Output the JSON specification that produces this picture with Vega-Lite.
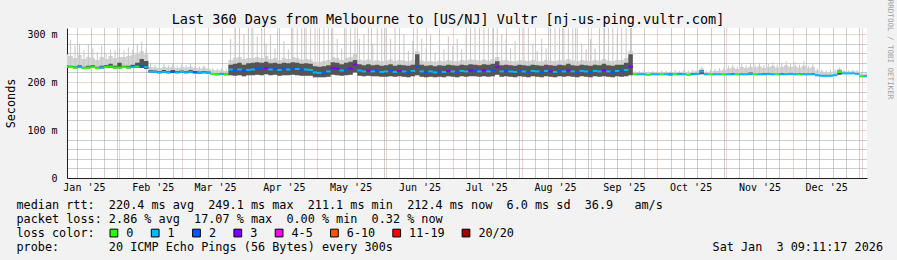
{
  "$schema": "https://vega.github.io/schema/vega-lite/v6.json",
  "width": 800,
  "height": 150,
  "autosize": {"type": "none"},
  "padding": {"left": 67, "top": 28, "right": 30, "bottom": 82},
  "background": "#f2f2f2",
  "config": {
    "font": "DejaVu Sans Mono",
    "view": {"fill": "#ffffff", "stroke": null},
    "axis": {
      "labelFont": "DejaVu Sans Mono", "labelFontSize": 10, "labelColor": "#000000",
      "titleFont": "DejaVu Sans Mono", "titleFontSize": 11.8, "titleFontWeight": "normal", "titleColor": "#000000",
      "ticks": false, "domain": false, "grid": false, "labels": false,
      "labelFlush": false, "labelOverlap": false, "labelBound": false,
      "gridDash": [1, 1], "gridWidth": 1
    }
  },
  "title": {
    "text": "Last 360 Days from Melbourne to [US/NJ] Vultr [nj-us-ping.vultr.com]",
    "font": "DejaVu Sans Mono", "fontSize": 13.5, "fontWeight": "normal", "color": "#000000",
    "anchor": "middle", "frame": "group", "dx": -19, "baseline": "alphabetic", "offset": -38
  },
  "data": {"values": [
    {"d":"2025-01-08","m":232,"a":229,"b":235,"c":258,"s":308,"l":"0"},
    {"d":"2025-01-10","m":231,"a":229,"b":234,"c":254,"s":288,"l":"0"},
    {"d":"2025-01-12","m":230,"a":228,"b":233,"c":250,"s":276,"l":"0"},
    {"d":"2025-01-14","m":231,"a":229,"b":235,"c":256,"s":280,"l":"1"},
    {"d":"2025-01-16","m":229,"a":227,"b":232,"c":248,"s":266,"l":"0"},
    {"d":"2025-01-18","m":230,"a":228,"b":234,"c":252,"s":278,"l":"0"},
    {"d":"2025-01-20","m":231,"a":229,"b":235,"c":250,"s":270,"l":"0"},
    {"d":"2025-01-22","m":229,"a":227,"b":232,"c":246,"s":262,"l":"0"},
    {"d":"2025-01-24","m":230,"a":228,"b":234,"c":252,"s":276,"l":"1"},
    {"d":"2025-01-26","m":231,"a":229,"b":235,"c":248,"s":260,"l":"0"},
    {"d":"2025-01-28","m":232,"a":229,"b":238,"c":254,"s":268,"l":"0"},
    {"d":"2025-01-30","m":230,"a":228,"b":234,"c":250,"s":266,"l":"0"},
    {"d":"2025-02-01","m":230,"a":228,"b":240,"c":252,"s":270,"l":"0"},
    {"d":"2025-02-03","m":231,"a":229,"b":234,"c":252,"s":266,"l":"0"},
    {"d":"2025-02-05","m":230,"a":228,"b":234,"c":254,"s":272,"l":"0"},
    {"d":"2025-02-07","m":231,"a":229,"b":236,"c":256,"s":268,"l":"1"},
    {"d":"2025-02-09","m":232,"a":229,"b":240,"c":260,"s":278,"l":"0"},
    {"d":"2025-02-11","m":234,"a":229,"b":248,"c":264,"s":284,"l":"2"},
    {"d":"2025-02-13","m":231,"a":227,"b":244,"c":258,"s":270,"l":"1"},
    {"d":"2025-02-15","m":222,"a":220,"b":225,"c":231,"s":240,"l":"1"},
    {"d":"2025-02-17","m":221,"a":219,"b":224,"c":230,"s":236,"l":"1"},
    {"d":"2025-02-19","m":220,"a":218,"b":223,"c":229,"s":233,"l":"1"},
    {"d":"2025-02-21","m":221,"a":219,"b":225,"c":231,"s":238,"l":"1"},
    {"d":"2025-02-23","m":220,"a":218,"b":223,"c":230,"s":235,"l":"1"},
    {"d":"2025-02-25","m":221,"a":219,"b":225,"c":232,"s":240,"l":"2"},
    {"d":"2025-02-27","m":220,"a":218,"b":223,"c":229,"s":234,"l":"1"},
    {"d":"2025-03-01","m":221,"a":219,"b":224,"c":231,"s":237,"l":"1"},
    {"d":"2025-03-03","m":220,"a":218,"b":223,"c":230,"s":235,"l":"1"},
    {"d":"2025-03-05","m":221,"a":219,"b":225,"c":232,"s":239,"l":"1"},
    {"d":"2025-03-07","m":220,"a":218,"b":223,"c":229,"s":233,"l":"2"},
    {"d":"2025-03-09","m":219,"a":217,"b":222,"c":228,"s":232,"l":"1"},
    {"d":"2025-03-11","m":220,"a":218,"b":223,"c":230,"s":235,"l":"1"},
    {"d":"2025-03-13","m":219,"a":217,"b":222,"c":228,"s":231,"l":"1"},
    {"d":"2025-03-15","m":217,"a":215,"b":219,"c":225,"s":229,"l":"0"},
    {"d":"2025-03-17","m":216,"a":214,"b":218,"c":224,"s":228,"l":"0"},
    {"d":"2025-03-19","m":217,"a":215,"b":219,"c":225,"s":229,"l":"1"},
    {"d":"2025-03-21","m":216,"a":214,"b":218,"c":223,"s":227,"l":"0"},
    {"d":"2025-03-23","m":226,"a":214,"b":236,"c":246,"s":290,"l":"1"},
    {"d":"2025-03-25","m":224,"a":213,"b":238,"c":250,"s":312,"l":"2"},
    {"d":"2025-03-27","m":226,"a":214,"b":240,"c":252,"s":312,"l":"1"},
    {"d":"2025-03-29","m":223,"a":212,"b":236,"c":248,"s":300,"l":"2"},
    {"d":"2025-03-31","m":225,"a":214,"b":239,"c":250,"s":312,"l":"1"},
    {"d":"2025-04-02","m":226,"a":214,"b":240,"c":250,"s":312,"l":"1"},
    {"d":"2025-04-04","m":228,"a":215,"b":241,"c":252,"s":295,"l":"2"},
    {"d":"2025-04-06","m":227,"a":214,"b":240,"c":250,"s":312,"l":"2"},
    {"d":"2025-04-08","m":229,"a":216,"b":242,"c":254,"s":280,"l":"3"},
    {"d":"2025-04-10","m":226,"a":214,"b":239,"c":248,"s":300,"l":"1"},
    {"d":"2025-04-12","m":227,"a":215,"b":240,"c":250,"s":270,"l":"2"},
    {"d":"2025-04-14","m":225,"a":213,"b":238,"c":246,"s":312,"l":"1"},
    {"d":"2025-04-16","m":227,"a":214,"b":240,"c":250,"s":285,"l":"2"},
    {"d":"2025-04-18","m":226,"a":214,"b":239,"c":248,"s":268,"l":"1"},
    {"d":"2025-04-20","m":228,"a":215,"b":241,"c":252,"s":312,"l":"2"},
    {"d":"2025-04-22","m":227,"a":214,"b":240,"c":250,"s":312,"l":"1"},
    {"d":"2025-04-24","m":225,"a":213,"b":238,"c":247,"s":312,"l":"2"},
    {"d":"2025-04-26","m":226,"a":213,"b":239,"c":248,"s":312,"l":"1"},
    {"d":"2025-04-28","m":225,"a":213,"b":238,"c":247,"s":312,"l":"1"},
    {"d":"2025-04-30","m":220,"a":210,"b":233,"c":242,"s":312,"l":"1"},
    {"d":"2025-05-02","m":219,"a":210,"b":232,"c":242,"s":312,"l":"1"},
    {"d":"2025-05-04","m":220,"a":210,"b":233,"c":244,"s":312,"l":"2"},
    {"d":"2025-05-06","m":222,"a":211,"b":235,"c":246,"s":312,"l":"1"},
    {"d":"2025-05-08","m":229,"a":215,"b":241,"c":252,"s":312,"l":"3"},
    {"d":"2025-05-10","m":228,"a":214,"b":240,"c":250,"s":290,"l":"3"},
    {"d":"2025-05-12","m":224,"a":213,"b":237,"c":246,"s":270,"l":"1"},
    {"d":"2025-05-14","m":226,"a":214,"b":240,"c":250,"s":312,"l":"2"},
    {"d":"2025-05-16","m":228,"a":215,"b":242,"c":252,"s":312,"l":"3"},
    {"d":"2025-05-18","m":236,"a":220,"b":246,"c":258,"s":312,"l":"3"},
    {"d":"2025-05-20","m":224,"a":213,"b":237,"c":247,"s":290,"l":"1"},
    {"d":"2025-05-22","m":222,"a":212,"b":235,"c":245,"s":300,"l":"1"},
    {"d":"2025-05-24","m":224,"a":213,"b":237,"c":247,"s":312,"l":"3"},
    {"d":"2025-05-26","m":222,"a":212,"b":235,"c":244,"s":280,"l":"1"},
    {"d":"2025-05-28","m":223,"a":212,"b":236,"c":246,"s":312,"l":"2"},
    {"d":"2025-05-30","m":221,"a":211,"b":234,"c":244,"s":312,"l":"1"},
    {"d":"2025-06-01","m":222,"a":211,"b":235,"c":245,"s":312,"l":"1"},
    {"d":"2025-06-03","m":224,"a":212,"b":237,"c":247,"s":290,"l":"2"},
    {"d":"2025-06-05","m":221,"a":211,"b":234,"c":244,"s":312,"l":"1"},
    {"d":"2025-06-07","m":223,"a":212,"b":236,"c":246,"s":275,"l":"3"},
    {"d":"2025-06-09","m":222,"a":211,"b":235,"c":245,"s":300,"l":"1"},
    {"d":"2025-06-11","m":221,"a":210,"b":234,"c":243,"s":265,"l":"2"},
    {"d":"2025-06-13","m":223,"a":212,"b":236,"c":246,"s":285,"l":"1"},
    {"d":"2025-06-15","m":232,"a":214,"b":258,"c":264,"s":312,"l":"2"},
    {"d":"2025-06-17","m":222,"a":211,"b":236,"c":245,"s":290,"l":"1"},
    {"d":"2025-06-19","m":221,"a":210,"b":234,"c":243,"s":270,"l":"2"},
    {"d":"2025-06-21","m":222,"a":211,"b":235,"c":244,"s":300,"l":"1"},
    {"d":"2025-06-23","m":220,"a":210,"b":233,"c":242,"s":262,"l":"1"},
    {"d":"2025-06-25","m":222,"a":211,"b":235,"c":245,"s":280,"l":"2"},
    {"d":"2025-06-27","m":221,"a":210,"b":234,"c":243,"s":268,"l":"1"},
    {"d":"2025-06-29","m":223,"a":212,"b":236,"c":246,"s":295,"l":"3"},
    {"d":"2025-07-01","m":222,"a":211,"b":235,"c":244,"s":275,"l":"1"},
    {"d":"2025-07-03","m":221,"a":210,"b":234,"c":243,"s":290,"l":"2"},
    {"d":"2025-07-05","m":223,"a":212,"b":236,"c":246,"s":268,"l":"1"},
    {"d":"2025-07-07","m":222,"a":211,"b":235,"c":245,"s":300,"l":"1"},
    {"d":"2025-07-09","m":224,"a":212,"b":237,"c":247,"s":312,"l":"3"},
    {"d":"2025-07-11","m":223,"a":212,"b":236,"c":246,"s":312,"l":"2"},
    {"d":"2025-07-13","m":222,"a":211,"b":235,"c":245,"s":312,"l":"1"},
    {"d":"2025-07-15","m":224,"a":212,"b":237,"c":247,"s":312,"l":"3"},
    {"d":"2025-07-17","m":222,"a":211,"b":236,"c":245,"s":312,"l":"1"},
    {"d":"2025-07-19","m":225,"a":212,"b":238,"c":248,"s":312,"l":"2"},
    {"d":"2025-07-21","m":231,"a":215,"b":243,"c":252,"s":312,"l":"3"},
    {"d":"2025-07-23","m":222,"a":211,"b":235,"c":245,"s":300,"l":"1"},
    {"d":"2025-07-25","m":223,"a":212,"b":236,"c":246,"s":290,"l":"2"},
    {"d":"2025-07-27","m":222,"a":211,"b":235,"c":244,"s":270,"l":"1"},
    {"d":"2025-07-29","m":221,"a":210,"b":234,"c":243,"s":285,"l":"1"},
    {"d":"2025-07-31","m":223,"a":212,"b":236,"c":246,"s":312,"l":"2"},
    {"d":"2025-08-02","m":222,"a":211,"b":235,"c":245,"s":312,"l":"1"},
    {"d":"2025-08-04","m":221,"a":210,"b":234,"c":244,"s":312,"l":"2"},
    {"d":"2025-08-06","m":223,"a":212,"b":236,"c":246,"s":280,"l":"1"},
    {"d":"2025-08-08","m":222,"a":211,"b":235,"c":244,"s":265,"l":"1"},
    {"d":"2025-08-10","m":221,"a":210,"b":234,"c":243,"s":290,"l":"2"},
    {"d":"2025-08-12","m":223,"a":212,"b":236,"c":246,"s":270,"l":"1"},
    {"d":"2025-08-14","m":222,"a":211,"b":235,"c":245,"s":312,"l":"3"},
    {"d":"2025-08-16","m":221,"a":210,"b":234,"c":244,"s":312,"l":"1"},
    {"d":"2025-08-18","m":223,"a":212,"b":236,"c":246,"s":312,"l":"2"},
    {"d":"2025-08-20","m":222,"a":211,"b":235,"c":245,"s":312,"l":"1"},
    {"d":"2025-08-22","m":224,"a":212,"b":238,"c":248,"s":312,"l":"3"},
    {"d":"2025-08-24","m":222,"a":211,"b":235,"c":245,"s":312,"l":"1"},
    {"d":"2025-08-26","m":221,"a":210,"b":234,"c":244,"s":312,"l":"2"},
    {"d":"2025-08-28","m":223,"a":212,"b":236,"c":246,"s":280,"l":"1"},
    {"d":"2025-08-30","m":222,"a":211,"b":235,"c":245,"s":268,"l":"1"},
    {"d":"2025-09-01","m":221,"a":210,"b":234,"c":244,"s":290,"l":"2"},
    {"d":"2025-09-03","m":223,"a":212,"b":236,"c":246,"s":270,"l":"1"},
    {"d":"2025-09-05","m":222,"a":211,"b":235,"c":245,"s":312,"l":"1"},
    {"d":"2025-09-07","m":224,"a":212,"b":238,"c":248,"s":312,"l":"3"},
    {"d":"2025-09-09","m":222,"a":211,"b":235,"c":245,"s":312,"l":"1"},
    {"d":"2025-09-11","m":221,"a":210,"b":234,"c":244,"s":312,"l":"2"},
    {"d":"2025-09-13","m":223,"a":212,"b":236,"c":246,"s":300,"l":"1"},
    {"d":"2025-09-15","m":222,"a":211,"b":236,"c":246,"s":312,"l":"2"},
    {"d":"2025-09-17","m":225,"a":212,"b":240,"c":250,"s":312,"l":"1"},
    {"d":"2025-09-19","m":232,"a":214,"b":258,"c":265,"s":312,"l":"3"},
    {"d":"2025-09-21","m":216,"a":215,"b":217,"c":220,"s":224,"l":"0"},
    {"d":"2025-09-23","m":216,"a":215,"b":217,"c":220,"s":223,"l":"1"},
    {"d":"2025-09-25","m":216,"a":215,"b":217,"c":221,"s":224,"l":"1"},
    {"d":"2025-09-27","m":215,"a":214,"b":216,"c":219,"s":222,"l":"0"},
    {"d":"2025-09-29","m":216,"a":215,"b":217,"c":220,"s":223,"l":"1"},
    {"d":"2025-10-01","m":216,"a":215,"b":217,"c":220,"s":223,"l":"1"},
    {"d":"2025-10-03","m":216,"a":215,"b":217,"c":221,"s":224,"l":"0"},
    {"d":"2025-10-05","m":216,"a":215,"b":217,"c":220,"s":223,"l":"1"},
    {"d":"2025-10-07","m":215,"a":214,"b":218,"c":220,"s":222,"l":"1"},
    {"d":"2025-10-09","m":216,"a":215,"b":217,"c":221,"s":225,"l":"0"},
    {"d":"2025-10-11","m":216,"a":215,"b":219,"c":220,"s":223,"l":"1"},
    {"d":"2025-10-13","m":216,"a":215,"b":217,"c":222,"s":226,"l":"1"},
    {"d":"2025-10-15","m":215,"a":214,"b":216,"c":221,"s":224,"l":"0"},
    {"d":"2025-10-17","m":216,"a":215,"b":219,"c":222,"s":226,"l":"1"},
    {"d":"2025-10-19","m":217,"a":215,"b":218,"c":223,"s":227,"l":"1"},
    {"d":"2025-10-21","m":222,"a":216,"b":225,"c":228,"s":232,"l":"1"},
    {"d":"2025-10-23","m":216,"a":215,"b":217,"c":221,"s":224,"l":"1"},
    {"d":"2025-10-25","m":216,"a":215,"b":217,"c":222,"s":226,"l":"0"},
    {"d":"2025-10-27","m":216,"a":215,"b":217,"c":223,"s":227,"l":"1"},
    {"d":"2025-10-29","m":216,"a":215,"b":217,"c":224,"s":229,"l":"1"},
    {"d":"2025-10-31","m":216,"a":215,"b":217,"c":225,"s":230,"l":"0"},
    {"d":"2025-11-02","m":216,"a":215,"b":217,"c":228,"s":234,"l":"1"},
    {"d":"2025-11-04","m":216,"a":215,"b":219,"c":230,"s":236,"l":"1"},
    {"d":"2025-11-06","m":216,"a":215,"b":217,"c":227,"s":232,"l":"0"},
    {"d":"2025-11-08","m":216,"a":215,"b":217,"c":231,"s":238,"l":"1"},
    {"d":"2025-11-10","m":216,"a":215,"b":217,"c":229,"s":235,"l":"1"},
    {"d":"2025-11-12","m":217,"a":215,"b":220,"c":232,"s":240,"l":"1"},
    {"d":"2025-11-14","m":216,"a":215,"b":217,"c":230,"s":236,"l":"0"},
    {"d":"2025-11-16","m":216,"a":215,"b":217,"c":233,"s":240,"l":"1"},
    {"d":"2025-11-18","m":216,"a":215,"b":219,"c":229,"s":235,"l":"1"},
    {"d":"2025-11-20","m":217,"a":215,"b":218,"c":231,"s":238,"l":"1"},
    {"d":"2025-11-22","m":216,"a":215,"b":217,"c":234,"s":242,"l":"1"},
    {"d":"2025-11-24","m":216,"a":215,"b":217,"c":230,"s":236,"l":"0"},
    {"d":"2025-11-26","m":216,"a":215,"b":219,"c":232,"s":240,"l":"1"},
    {"d":"2025-11-28","m":216,"a":215,"b":217,"c":235,"s":244,"l":"1"},
    {"d":"2025-11-30","m":217,"a":215,"b":218,"c":231,"s":238,"l":"1"},
    {"d":"2025-12-02","m":216,"a":215,"b":217,"c":233,"s":242,"l":"1"},
    {"d":"2025-12-04","m":216,"a":215,"b":219,"c":230,"s":236,"l":"0"},
    {"d":"2025-12-06","m":216,"a":215,"b":217,"c":234,"s":244,"l":"1"},
    {"d":"2025-12-08","m":216,"a":215,"b":217,"c":229,"s":234,"l":"1"},
    {"d":"2025-12-10","m":216,"a":215,"b":218,"c":231,"s":237,"l":"1"},
    {"d":"2025-12-12","m":214,"a":213,"b":215,"c":224,"s":228,"l":"1"},
    {"d":"2025-12-14","m":213,"a":212,"b":214,"c":222,"s":226,"l":"1"},
    {"d":"2025-12-16","m":213,"a":212,"b":214,"c":220,"s":224,"l":"1"},
    {"d":"2025-12-18","m":213,"a":212,"b":214,"c":221,"s":225,"l":"1"},
    {"d":"2025-12-20","m":214,"a":213,"b":215,"c":222,"s":226,"l":"1"},
    {"d":"2025-12-22","m":221,"a":215,"b":224,"c":227,"s":230,"l":"0"},
    {"d":"2025-12-24","m":218,"a":217,"b":219,"c":223,"s":226,"l":"1"},
    {"d":"2025-12-26","m":218,"a":217,"b":219,"c":222,"s":225,"l":"1"},
    {"d":"2025-12-28","m":218,"a":217,"b":219,"c":223,"s":226,"l":"1"},
    {"d":"2025-12-30","m":217,"a":216,"b":218,"c":222,"s":225,"l":"1"},
    {"d":"2026-01-01","m":212,"a":211,"b":213,"c":217,"s":220,"l":"0"},
    {"d":"2026-01-03","m":212,"a":211,"b":213,"c":217,"s":220,"l":"1"}
  ]},
  "layer": [
    {
      "mark": {"type": "area", "interpolate": "step", "color": "#d3d3d3", "clip": true},
      "encoding": {
        "x": {"field": "d", "type": "temporal",
          "scale": {"type": "utc", "domain": [{"year": 2025, "month": 1, "date": 8, "hours": 9, "minutes": 11, "utc": true}, {"year": 2026, "month": 1, "date": 3, "hours": 9, "minutes": 11, "utc": true}]},
          "axis": {"orient": "bottom", "grid": true, "gridColor": "#9a9a9a", "gridOpacity": 1,
            "values": [
              {"year": 2025, "month": 1, "date": 13, "utc": true}, {"year": 2025, "month": 1, "date": 19, "utc": true}, {"year": 2025, "month": 1, "date": 25, "utc": true}, {"year": 2025, "month": 1, "date": 31, "utc": true},
              {"year": 2025, "month": 2, "date": 7, "utc": true}, {"year": 2025, "month": 2, "date": 13, "utc": true}, {"year": 2025, "month": 2, "date": 19, "utc": true}, {"year": 2025, "month": 2, "date": 25, "utc": true},
              {"year": 2025, "month": 3, "date": 7, "utc": true}, {"year": 2025, "month": 3, "date": 13, "utc": true}, {"year": 2025, "month": 3, "date": 19, "utc": true}, {"year": 2025, "month": 3, "date": 25, "utc": true}, {"year": 2025, "month": 3, "date": 31, "utc": true},
              {"year": 2025, "month": 4, "date": 7, "utc": true}, {"year": 2025, "month": 4, "date": 13, "utc": true}, {"year": 2025, "month": 4, "date": 19, "utc": true}, {"year": 2025, "month": 4, "date": 25, "utc": true},
              {"year": 2025, "month": 5, "date": 7, "utc": true}, {"year": 2025, "month": 5, "date": 13, "utc": true}, {"year": 2025, "month": 5, "date": 19, "utc": true}, {"year": 2025, "month": 5, "date": 25, "utc": true}, {"year": 2025, "month": 5, "date": 31, "utc": true},
              {"year": 2025, "month": 6, "date": 7, "utc": true}, {"year": 2025, "month": 6, "date": 13, "utc": true}, {"year": 2025, "month": 6, "date": 19, "utc": true}, {"year": 2025, "month": 6, "date": 25, "utc": true},
              {"year": 2025, "month": 7, "date": 7, "utc": true}, {"year": 2025, "month": 7, "date": 13, "utc": true}, {"year": 2025, "month": 7, "date": 19, "utc": true}, {"year": 2025, "month": 7, "date": 25, "utc": true}, {"year": 2025, "month": 7, "date": 31, "utc": true},
              {"year": 2025, "month": 8, "date": 7, "utc": true}, {"year": 2025, "month": 8, "date": 13, "utc": true}, {"year": 2025, "month": 8, "date": 19, "utc": true}, {"year": 2025, "month": 8, "date": 25, "utc": true}, {"year": 2025, "month": 8, "date": 31, "utc": true},
              {"year": 2025, "month": 9, "date": 7, "utc": true}, {"year": 2025, "month": 9, "date": 13, "utc": true}, {"year": 2025, "month": 9, "date": 19, "utc": true}, {"year": 2025, "month": 9, "date": 25, "utc": true},
              {"year": 2025, "month": 10, "date": 7, "utc": true}, {"year": 2025, "month": 10, "date": 13, "utc": true}, {"year": 2025, "month": 10, "date": 19, "utc": true}, {"year": 2025, "month": 10, "date": 25, "utc": true}, {"year": 2025, "month": 10, "date": 31, "utc": true},
              {"year": 2025, "month": 11, "date": 7, "utc": true}, {"year": 2025, "month": 11, "date": 13, "utc": true}, {"year": 2025, "month": 11, "date": 19, "utc": true}, {"year": 2025, "month": 11, "date": 25, "utc": true},
              {"year": 2025, "month": 12, "date": 7, "utc": true}, {"year": 2025, "month": 12, "date": 13, "utc": true}, {"year": 2025, "month": 12, "date": 19, "utc": true}, {"year": 2025, "month": 12, "date": 25, "utc": true}, {"year": 2025, "month": 12, "date": 31, "utc": true}
            ], "title": null}},
        "y": {"field": "a", "type": "quantitative", "scale": {"domain": [0, 312.5], "nice": false},
          "axis": {"orient": "left", "grid": true, "gridColor": "#9a9a9a", "gridOpacity": 1, "values": [20, 40, 60, 80, 120, 140, 160, 180, 220, 240, 260, 280], "title": null}},
        "y2": {"field": "c"}
      }
    },
    {
      "mark": {"type": "rule", "color": "#c6c6c6", "strokeWidth": 1, "clip": true},
      "encoding": {
        "x": {"field": "d", "type": "temporal", "scale": {"type": "utc"},
          "axis": {"orient": "bottom", "grid": true, "gridColor": "#de4f4f", "gridOpacity": 0.5,
            "values": [
              {"year": 2025, "month": 2, "date": 1, "utc": true}, {"year": 2025, "month": 3, "date": 1, "utc": true},
              {"year": 2025, "month": 4, "date": 1, "utc": true}, {"year": 2025, "month": 5, "date": 1, "utc": true},
              {"year": 2025, "month": 6, "date": 1, "utc": true}, {"year": 2025, "month": 7, "date": 1, "utc": true},
              {"year": 2025, "month": 8, "date": 1, "utc": true}, {"year": 2025, "month": 9, "date": 1, "utc": true},
              {"year": 2025, "month": 10, "date": 1, "utc": true}, {"year": 2025, "month": 11, "date": 1, "utc": true},
              {"year": 2025, "month": 12, "date": 1, "utc": true}, {"year": 2026, "month": 1, "date": 1, "utc": true}
            ], "title": null}},
        "y": {"field": "b", "type": "quantitative",
          "axis": {"orient": "left", "grid": true, "gridColor": "#de4f4f", "gridOpacity": 0.5, "values": [0, 100, 200, 300],
            "labels": true, "labelExpr": "datum.value == 0 ? '0' : datum.value + ' m'", "labelPadding": 10,
            "domain": true, "domainColor": "#1f1f1f",
            "title": "Seconds", "titleX": -57, "titleY": 75, "titleAngle": -90, "titleAlign": "center", "titleBaseline": "middle"}},
        "y2": {"field": "s"}
      }
    },
    {
      "mark": {"type": "area", "interpolate": "step", "color": "#555555", "clip": true},
      "encoding": {
        "x": {"field": "d", "type": "temporal", "scale": {"type": "utc"},
          "axis": {"orient": "bottom",
            "values": [
              {"year": 2025, "month": 1, "date": 16, "utc": true}, {"year": 2025, "month": 2, "date": 16, "utc": true},
              {"year": 2025, "month": 3, "date": 16, "utc": true}, {"year": 2025, "month": 4, "date": 16, "utc": true},
              {"year": 2025, "month": 5, "date": 16, "utc": true}, {"year": 2025, "month": 6, "date": 16, "utc": true},
              {"year": 2025, "month": 7, "date": 16, "utc": true}, {"year": 2025, "month": 8, "date": 16, "utc": true},
              {"year": 2025, "month": 9, "date": 16, "utc": true}, {"year": 2025, "month": 10, "date": 16, "utc": true},
              {"year": 2025, "month": 11, "date": 16, "utc": true}, {"year": 2025, "month": 12, "date": 16, "utc": true}
            ],
            "labels": true, "labelExpr": "utcFormat(datum.value, \"%b '%y\")", "labelPadding": 4,
            "domain": true, "domainColor": "#1f1f1f",
            "title": [
              "median rtt:\u00a0\u00a0220.4 ms avg\u00a0\u00a0249.1 ms max\u00a0\u00a0211.1 ms min\u00a0\u00a0212.4 ms now\u00a0\u00a06.0 ms sd\u00a0\u00a036.9\u00a0\u00a0\u00a0am/s",
              "packet loss: 2.86 % avg\u00a0\u00a017.07 % max\u00a0\u00a00.00 % min\u00a0\u00a00.32 % now",
              "loss color:",
              "probe:\u00a0\u00a0\u00a0\u00a0\u00a0\u00a0\u00a020 ICMP Echo Pings (56 Bytes) every 300s\u00a0\u00a0\u00a0\u00a0\u00a0\u00a0\u00a0\u00a0\u00a0\u00a0\u00a0\u00a0\u00a0\u00a0\u00a0\u00a0\u00a0\u00a0\u00a0\u00a0\u00a0\u00a0\u00a0\u00a0\u00a0\u00a0\u00a0\u00a0\u00a0\u00a0\u00a0\u00a0\u00a0\u00a0\u00a0\u00a0\u00a0\u00a0\u00a0\u00a0\u00a0\u00a0\u00a0\u00a0\u00a0Sat Jan\u00a0\u00a03 09:11:17 2026"
            ],
            "titleAnchor": "start", "titleAlign": "left", "titleX": -51, "titleY": 30, "titleBaseline": "alphabetic",
            "titleLineHeight": 14, "titleLimit": 1000}},
        "y": {"field": "a", "type": "quantitative",
          "axis": {"orient": "right", "values": [], "title": "RRDTOOL / TOBI OETIKER", "titleAngle": 90, "titleX": 22, "titleY": 21,
            "titleAlign": "center", "titleBaseline": "middle", "titleFontSize": 7.5, "titleColor": "#a0a0a0"}},
        "y2": {"field": "b"}
      }
    },
    {
      "mark": {"type": "tick", "orient": "horizontal", "size": 4.6, "thickness": 2, "opacity": 1, "clip": true},
      "encoding": {
        "x": {"field": "d", "type": "temporal", "scale": {"type": "utc"}, "axis": null},
        "y": {"field": "m", "type": "quantitative", "axis": null},
        "color": {"field": "l", "type": "nominal",
          "scale": {"domain": ["0", "1", "2", "3", "4-5", "6-10", "11-19", "20/20"],
            "range": ["#26ff00", "#00b8ff", "#0059ff", "#7e00ff", "#ff00ff", "#ff5500", "#ff0000", "#a10000"]},
          "legend": {"orient": "none", "legendX": 41, "legendY": 199, "direction": "horizontal", "title": null,
            "symbolType": "square", "symbolSize": 60, "symbolStrokeColor": "#000000", "symbolStrokeWidth": 1, "symbolOpacity": 1,
            "labelFont": "DejaVu Sans Mono", "labelFontSize": 11.8, "labelColor": "#000000", "labelOffset": 6.5,
            "columnPadding": 15.3, "padding": 0}}
      }
    }
  ],
  "resolve": {"axis": {"x": "independent", "y": "independent"}}
}
